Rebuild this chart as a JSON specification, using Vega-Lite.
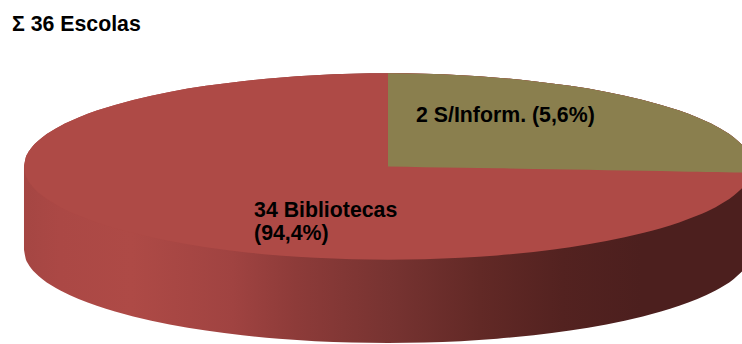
{
  "$schema": "https://vega.github.io/schema/vega-lite/v6.json",
  "width": 742,
  "height": 344,
  "padding": 0,
  "autosize": {"type": "fit", "contains": "padding"},
  "background": "white",
  "view": {"stroke": null},
  "encoding": {
    "x": {"field": "u", "type": "quantitative", "scale": {"domain": [-106.59, 97.25], "nice": false, "zero": false}, "axis": null}
  },
  "datasets": {
    "rim": [
      {"u": -100, "upper": 0, "lower": 0, "base": -23.08},
      {"u": -99.5, "upper": 2.58, "lower": -2.58, "base": -25.66},
      {"u": -99, "upper": 3.64, "lower": -3.64, "base": -26.72},
      {"u": -98, "upper": 5.14, "lower": -5.14, "base": -28.22},
      {"u": -97, "upper": 6.28, "lower": -6.28, "base": -29.36},
      {"u": -95, "upper": 8.06, "lower": -8.06, "base": -31.14},
      {"u": -90, "upper": 11.25, "lower": -11.25, "base": -34.33},
      {"u": -85, "upper": 13.6, "lower": -13.6, "base": -36.68},
      {"u": -80, "upper": 15.49, "lower": -15.49, "base": -38.57},
      {"u": -70, "upper": 18.44, "lower": -18.44, "base": -41.52},
      {"u": -60, "upper": 20.66, "lower": -20.66, "base": -43.74},
      {"u": -50, "upper": 22.36, "lower": -22.36, "base": -45.44},
      {"u": -40, "upper": 23.66, "lower": -23.66, "base": -46.74},
      {"u": -30, "upper": 24.63, "lower": -24.63, "base": -47.71},
      {"u": -20, "upper": 25.3, "lower": -25.3, "base": -48.38},
      {"u": -10, "upper": 25.69, "lower": -25.69, "base": -48.77},
      {"u": 0, "upper": 25.82, "lower": -25.82, "base": -48.9},
      {"u": 10, "upper": 25.69, "lower": -25.69, "base": -48.77},
      {"u": 20, "upper": 25.3, "lower": -25.3, "base": -48.38},
      {"u": 30, "upper": 24.63, "lower": -24.63, "base": -47.71},
      {"u": 40, "upper": 23.66, "lower": -23.66, "base": -46.74},
      {"u": 50, "upper": 22.36, "lower": -22.36, "base": -45.44},
      {"u": 60, "upper": 20.66, "lower": -20.66, "base": -43.74},
      {"u": 70, "upper": 18.44, "lower": -18.44, "base": -41.52},
      {"u": 80, "upper": 15.49, "lower": -15.49, "base": -38.57},
      {"u": 85, "upper": 13.6, "lower": -13.6, "base": -36.68},
      {"u": 90, "upper": 11.25, "lower": -11.25, "base": -34.33},
      {"u": 95, "upper": 8.06, "lower": -8.06, "base": -31.14},
      {"u": 97.25, "upper": 6.01, "lower": -6.01, "base": -29.09}
    ],
    "wedge": [
      {"u": 0, "upper": 25.82, "edge": 0},
      {"u": 10, "upper": 25.69, "edge": -0.17},
      {"u": 20, "upper": 25.3, "edge": -0.34},
      {"u": 30, "upper": 24.63, "edge": -0.51},
      {"u": 40, "upper": 23.66, "edge": -0.68},
      {"u": 50, "upper": 22.36, "edge": -0.85},
      {"u": 60, "upper": 20.66, "edge": -1.02},
      {"u": 70, "upper": 18.44, "edge": -1.19},
      {"u": 80, "upper": 15.49, "edge": -1.36},
      {"u": 85, "upper": 13.6, "edge": -1.45},
      {"u": 90, "upper": 11.25, "edge": -1.53},
      {"u": 95, "upper": 8.06, "edge": -1.62},
      {"u": 97.25, "upper": 6.01, "edge": -1.65}
    ],
    "labels": [
      {"u": -103.3, "v": 37.6, "label": "Σ 36 Escolas", "count": 36},
      {"u": -36.8, "v": -14.0, "label": "34 Bibliotecas\n(94,4%)", "count": 34},
      {"u": 7.7, "v": 12.4, "label": "2 S/Inform. (5,6%)", "count": 2}
    ]
  },
  "layer": [
    {
      "data": {"name": "rim"},
      "mark": {
        "type": "area",
        "interpolate": "monotone",
        "color": {
          "gradient": "linear", "x1": 0, "y1": 0, "x2": 1, "y2": 0,
          "stops": [
            {"offset": 0, "color": "#a54643"},
            {"offset": 0.05, "color": "#ab4845"},
            {"offset": 0.15, "color": "#ae4a46"},
            {"offset": 0.29, "color": "#a04341"},
            {"offset": 0.38, "color": "#8d3b39"},
            {"offset": 0.51, "color": "#773331"},
            {"offset": 0.635, "color": "#622926"},
            {"offset": 0.75, "color": "#532220"},
            {"offset": 0.86, "color": "#4c1f1e"},
            {"offset": 1, "color": "#4c1f1e"}
          ]
        }
      },
      "encoding": {
        "y": {"field": "upper", "type": "quantitative", "scale": {"domain": [-48.34, 46.14], "nice": false, "zero": false}, "axis": null},
        "y2": {"field": "base"}
      }
    },
    {
      "data": {"name": "rim"},
      "mark": {"type": "area", "interpolate": "monotone", "color": "#ae4a46"},
      "encoding": {
        "y": {"field": "upper", "type": "quantitative", "scale": {"domain": [-48.34, 46.14], "nice": false, "zero": false}, "axis": null},
        "y2": {"field": "lower"}
      }
    },
    {
      "data": {"name": "wedge"},
      "mark": {"type": "area", "interpolate": "monotone", "color": "#8a7f4e"},
      "encoding": {
        "y": {"field": "upper", "type": "quantitative", "scale": {"domain": [-48.34, 46.14], "nice": false, "zero": false}, "axis": null},
        "y2": {"field": "edge"}
      }
    },
    {
      "data": {"name": "labels"},
      "mark": {
        "type": "text",
        "align": "left",
        "baseline": "alphabetic",
        "font": "Liberation Sans",
        "fontWeight": "bold",
        "fontSize": 21.3,
        "lineHeight": 22.5,
        "lineBreak": "\n",
        "color": "#000000"
      },
      "encoding": {
        "y": {"field": "v", "type": "quantitative", "scale": {"domain": [-48.34, 46.14], "nice": false, "zero": false}, "axis": null},
        "text": {"field": "label"}
      }
    }
  ]
}
